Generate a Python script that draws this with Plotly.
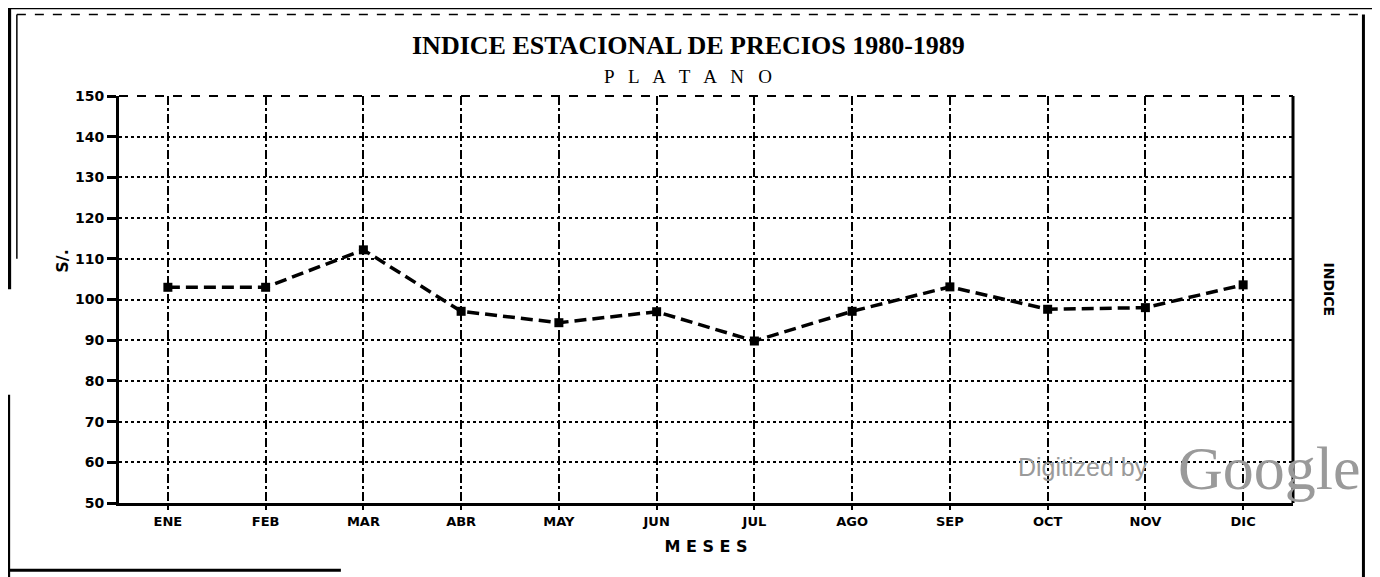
import plotly.graph_objects as go

months = ["ENE", "FEB", "MAR", "ABR", "MAY", "JUN", "JUL", "AGO", "SEP", "OCT", "NOV", "DIC"]
index_values = [103.0, 103.0, 112.2, 97.1, 94.3, 97.0, 89.8, 97.1, 103.1, 97.6, 98.0, 103.6]
y_ticks = [50, 60, 70, 80, 90, 100, 110, 120, 130, 140, 150]

x_idx = list(range(len(months)))

fig = go.Figure()
fig.add_trace(go.Scatter(
    x=x_idx, y=index_values, mode="lines+markers",
    line=dict(color="black", width=3.5, dash="12px,6px"),
    marker=dict(symbol="square", size=9, color="black"),
    showlegend=False,
))

fig.update_layout(
    width=1380, height=577,
    margin=dict(l=111, r=95, t=88, b=82),
    paper_bgcolor="white", plot_bgcolor="white",
    xaxis=dict(
        range=[-0.50, 11.51], tickmode="array", tickvals=x_idx, ticktext=months,
        showgrid=True, gridcolor="black", gridwidth=1.5, griddash="dashdot",
        showline=True, linecolor="black", linewidth=3,
        ticks="outside", ticklen=4, tickwidth=2, tickcolor="black",
        tickfont=dict(family="DejaVu Sans", size=13, color="black", weight="bold"),
        zeroline=False,
        title=dict(text="M E S E S", font=dict(family="DejaVu Sans", size=16, color="black", weight="bold"), standoff=14),
    ),
    yaxis=dict(
        range=[50, 150], tickmode="array", tickvals=y_ticks,
        showgrid=True, gridcolor="black", gridwidth=1.5, griddash="dot",
        showline=True, linecolor="black", linewidth=3,
        ticks="outside", ticklen=9, tickwidth=3, tickcolor="black",
        tickfont=dict(family="DejaVu Sans", size=14, color="black", weight="bold"),
        zeroline=False,
    ),
)

# frame: right solid, top dashed
fig.add_shape(type="line", xref="paper", yref="paper", x0=1, x1=1, y0=0, y1=1,
              line=dict(color="black", width=3))
fig.add_shape(type="line", xref="paper", yref="paper", x0=0, x1=1, y0=1, y1=1,
              line=dict(color="black", width=2, dash="dash"))

# page border remnants of the scan
border = dict(color="black", width=3)
fig.add_shape(type="line", xref="paper", yref="paper", x0=-0.094, x1=1.069, y0=1.217, y1=1.217, line=border)
fig.add_shape(type="line", xref="paper", yref="paper", x0=-0.087, x1=1.062, y0=1.200, y1=1.200,
              line=dict(color="black", width=1.5, dash="dash"))
fig.add_shape(type="line", xref="paper", yref="paper", x0=-0.094, x1=-0.094, y0=0.525, y1=1.217,
              line=dict(color="black", width=5))
fig.add_shape(type="line", xref="paper", yref="paper", x0=-0.087, x1=-0.087, y0=0.60, y1=1.200,
              line=dict(color="black", width=1.5))
fig.add_shape(type="line", xref="paper", yref="paper", x0=-0.094, x1=-0.094, y0=-0.182, y1=0.266,
              line=border)
fig.add_shape(type="line", xref="paper", yref="paper", x0=-0.094, x1=0.189, y0=-0.165, y1=-0.165,
              line=border)
fig.add_shape(type="line", xref="paper", yref="paper", x0=1.060, x1=1.060, y0=-0.182, y1=1.200, line=border)
fig.add_shape(type="line", xref="paper", yref="paper", x0=1.069, x1=1.069, y0=-0.182, y1=1.217, line=border)

# titles
fig.add_annotation(text="INDICE ESTACIONAL DE PRECIOS 1980-1989", xref="paper", yref="paper",
                   x=0.485, y=1.123, showarrow=False, xanchor="center", yanchor="middle",
                   font=dict(family="Liberation Serif", size=26, color="black", weight="bold"))
fig.add_annotation(text="P   L   A   T   A   N   O", xref="paper", yref="paper",
                   x=0.485, y=1.049, showarrow=False, xanchor="center", yanchor="middle",
                   font=dict(family="Liberation Serif", size=19, color="black"))

# side labels
fig.add_annotation(text="S/.", xref="paper", yref="paper", x=-0.058, y=0.594,
                   showarrow=False, textangle=-90,
                   font=dict(family="DejaVu Sans", size=16, color="black", weight="bold"))
fig.add_annotation(text="INDICE", xref="paper", yref="paper", x=1.039, y=0.525,
                   showarrow=False, textangle=90,
                   font=dict(family="DejaVu Sans", size=14, color="black", weight="bold"))

# watermark
fig.add_annotation(text="Digitized by", xref="paper", yref="paper", x=0.764, y=0.088,
                   showarrow=False, xanchor="left", yanchor="middle",
                   font=dict(family="Liberation Sans", size=25, color="#9a9a9a"))
fig.add_annotation(text="Google", xref="paper", yref="paper", x=0.900, y=0.085,
                   showarrow=False, xanchor="left", yanchor="middle",
                   font=dict(family="Liberation Serif", size=62, color="#9a9a9a"))

fig.write_html("out.html")
